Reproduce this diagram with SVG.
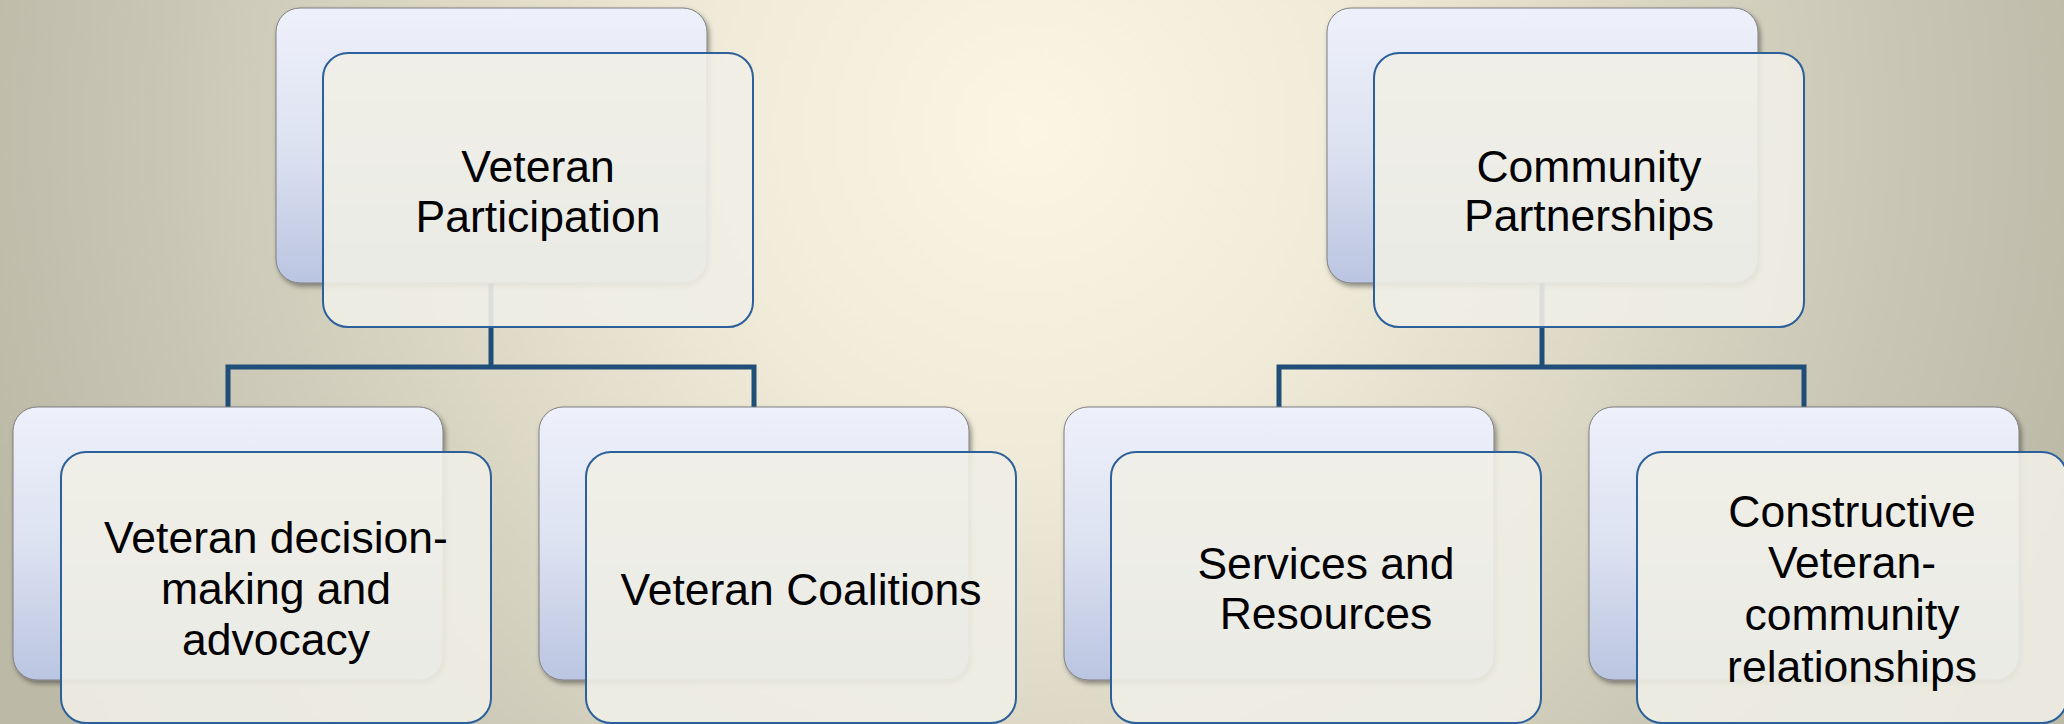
<svg xmlns="http://www.w3.org/2000/svg" width="2064" height="724" viewBox="0 0 2064 724">
<defs>
<radialGradient id="bg" gradientUnits="userSpaceOnUse" cx="1030" cy="130" r="1100">
<stop offset="0" stop-color="#FBF6E4"/>
<stop offset="0.3" stop-color="#F0EBD8"/>
<stop offset="0.6" stop-color="#D8D4C2"/>
<stop offset="0.8" stop-color="#C8C5B4"/>
<stop offset="1" stop-color="#BCB9A7"/>
</radialGradient>
<linearGradient id="backFill" x1="0" y1="0" x2="0" y2="1">
<stop offset="0" stop-color="#EEF1FB"/>
<stop offset="0.5" stop-color="#DDE2F1"/>
<stop offset="1" stop-color="#BAC5E1"/>
</linearGradient>
<filter id="shadow" x="-5%" y="-5%" width="112%" height="115%">
<feDropShadow dx="2" dy="3" stdDeviation="2.5" flood-color="#000" flood-opacity="0.4"/>
</filter>
<style>
.back{fill:url(#backFill);stroke:#7F7F7F;stroke-width:1;filter:url(#shadow)}
.front{fill:#F0EEE6;fill-opacity:0.9;stroke:#2C609A;stroke-width:2}
.conn{fill:none;stroke:#1F4E79;stroke-width:5;stroke-linejoin:miter}
.lbl{font-family:"Liberation Sans",Arial,sans-serif;font-size:44.5px;fill:#000;text-anchor:middle}
</style>
</defs>
<rect x="0" y="0" width="2064" height="724" fill="url(#bg)"/>
<g id="connectors">
<path class="conn" d="M491 283 V367"/>
<path class="conn" d="M228 407 V367 H754 V407"/>
<path class="conn" d="M1542 283 V367"/>
<path class="conn" d="M1279 407 V367 H1804 V407"/>
</g>
<g id="node-veteran-participation">
<rect class="back" x="276" y="8" width="431" height="275" rx="24"/>
<rect class="front" x="323" y="53" width="430" height="274" rx="25"/>
<text class="lbl" x="538" y="182">Veteran</text>
<text class="lbl" x="538" y="232">Participation</text>
</g>
<g id="node-community-partnerships">
<rect class="back" x="1327" y="8" width="431" height="275" rx="24"/>
<rect class="front" x="1374" y="53" width="430" height="274" rx="25"/>
<text class="lbl" x="1589" y="182">Community</text>
<text class="lbl" x="1589" y="231">Partnerships</text>
</g>
<g id="node-decision-making">
<rect class="back" x="13" y="407" width="430" height="273" rx="24"/>
<rect class="front" x="61" y="452" width="430" height="271" rx="25"/>
<text class="lbl" x="276" y="553">Veteran decision-</text>
<text class="lbl" x="276" y="604">making and</text>
<text class="lbl" x="276" y="655">advocacy</text>
</g>
<g id="node-veteran-coalitions">
<rect class="back" x="539" y="407" width="430" height="273" rx="24"/>
<rect class="front" x="586" y="452" width="430" height="271" rx="25"/>
<text class="lbl" x="801" y="605">Veteran Coalitions</text>
</g>
<g id="node-services-resources">
<rect class="back" x="1064" y="407" width="430" height="273" rx="24"/>
<rect class="front" x="1111" y="452" width="430" height="271" rx="25"/>
<text class="lbl" x="1326" y="579">Services and</text>
<text class="lbl" x="1326" y="629">Resources</text>
</g>
<g id="node-constructive-relationships">
<rect class="back" x="1589" y="407" width="430" height="273" rx="24"/>
<rect class="front" x="1637" y="452" width="430" height="271" rx="25"/>
<text class="lbl" x="1852" y="527">Constructive</text>
<text class="lbl" x="1852" y="578">Veteran-</text>
<text class="lbl" x="1852" y="630">community</text>
<text class="lbl" x="1852" y="682">relationships</text>
</g>
</svg>
